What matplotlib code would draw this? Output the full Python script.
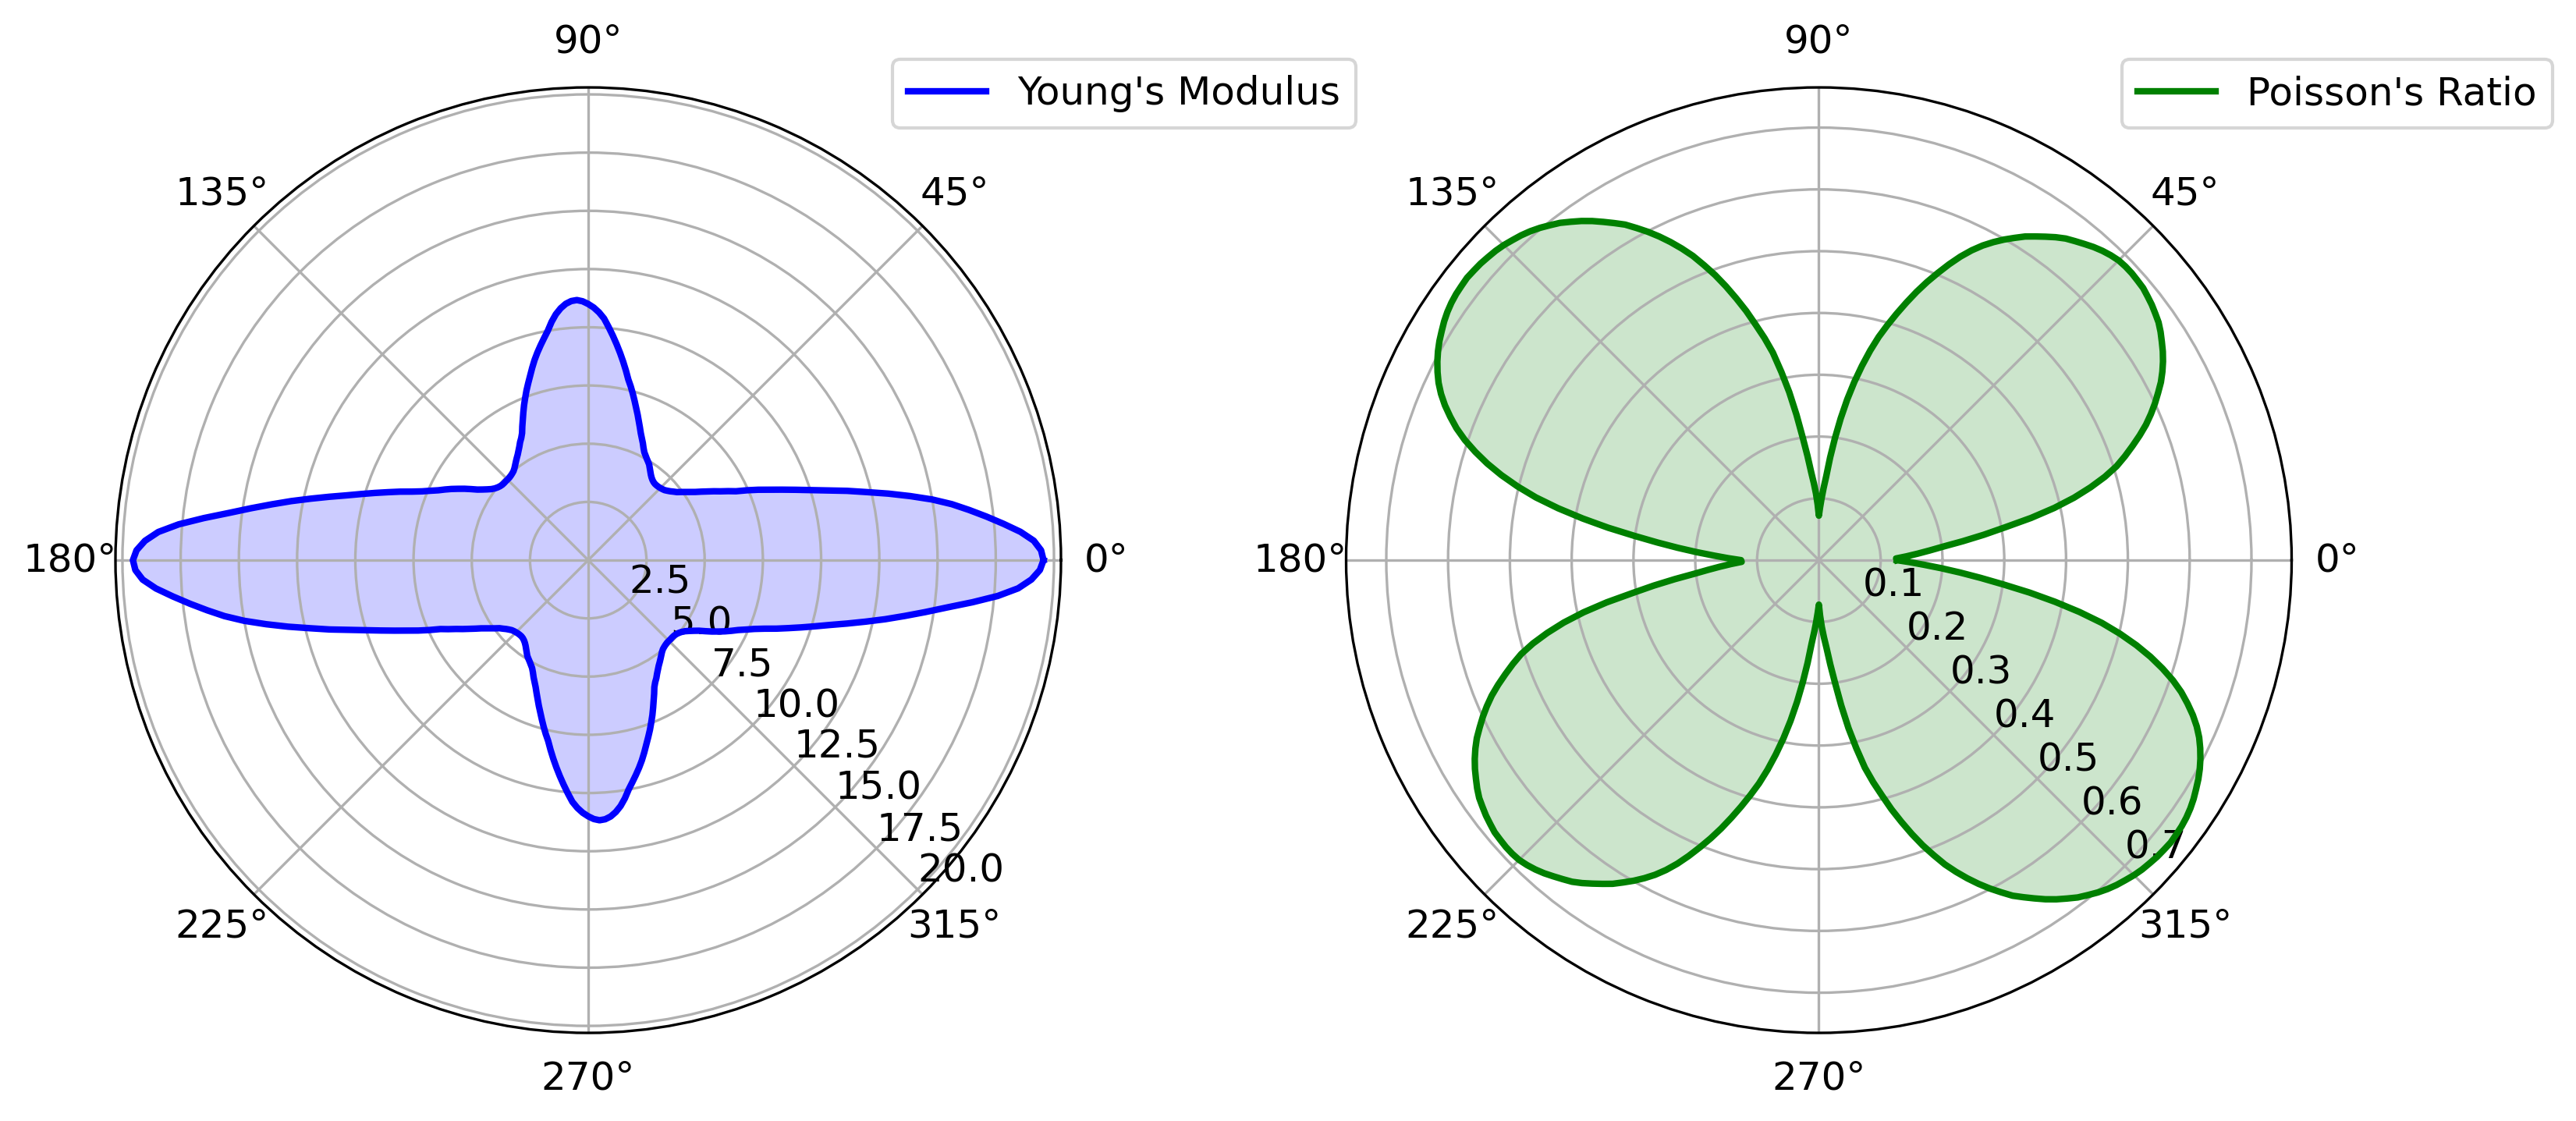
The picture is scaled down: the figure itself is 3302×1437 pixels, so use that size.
import numpy as np
import matplotlib
matplotlib.use("Agg")
import matplotlib.pyplot as plt

# loading direction in degrees, 1.25 degree steps over a full turn
angles_deg = np.arange(0, 360, 1.25)

# Young's modulus (the curve repeats after 180 deg)
youngs_modulus = [
    19.55, 19.45, 19.15, 18.6, 17.9, 17.2, 16.5, 15.8,
    15.0, 14.1, 13.2, 12.3, 11.5, 10.7, 10.0, 9.4,
    8.85, 8.35, 7.9, 7.45, 7.0, 6.7, 6.4, 6.15,
    5.9, 5.67, 5.45, 5.27, 5.1, 4.95, 4.8, 4.7,
    4.6, 4.52, 4.45, 4.41, 4.38, 4.36, 4.35, 4.35,
    4.37, 4.41, 4.47, 4.55, 4.65, 4.76, 4.87, 4.95,
    5.03, 5.12, 5.22, 5.37, 5.55, 5.72, 5.9, 6.12,
    6.35, 6.6, 6.85, 7.12, 7.4, 7.68, 7.95, 8.3,
    8.65, 9.0, 9.35, 9.7, 10.05, 10.4, 10.65, 10.85,
    11.0, 11.12, 11.18, 11.15, 11.05, 10.88, 10.65, 10.35,
    10.0, 9.72, 9.45, 9.18, 8.9, 8.6, 8.3, 8.02,
    7.75, 7.47, 7.2, 6.92, 6.65, 6.4, 6.15, 5.98,
    5.85, 5.7, 5.57, 5.45, 5.35, 5.25, 5.15, 5.06,
    4.99, 4.95, 4.92, 4.9, 4.9, 4.9, 4.9, 4.91,
    4.94, 4.99, 5.06, 5.16, 5.3, 5.46, 5.64, 5.88,
    6.13, 6.37, 6.62, 6.86, 7.1, 7.4, 7.72, 8.12,
    8.6, 9.08, 9.6, 10.15, 10.75, 11.45, 12.2, 13.0,
    13.8, 14.65, 15.55, 16.6, 17.65, 18.5, 19.05, 19.4,
    # 180 .. 358.75
    19.55, 19.45, 19.15, 18.6, 17.9, 17.2, 16.5, 15.8,
    15.0, 14.1, 13.2, 12.3, 11.5, 10.7, 10.0, 9.4,
    8.85, 8.35, 7.9, 7.45, 7.0, 6.7, 6.4, 6.15,
    5.9, 5.67, 5.45, 5.27, 5.1, 4.95, 4.8, 4.7,
    4.6, 4.52, 4.45, 4.41, 4.38, 4.36, 4.35, 4.35,
    4.37, 4.41, 4.47, 4.55, 4.65, 4.76, 4.87, 4.95,
    5.03, 5.12, 5.22, 5.37, 5.55, 5.72, 5.9, 6.12,
    6.35, 6.6, 6.85, 7.12, 7.4, 7.68, 7.95, 8.3,
    8.65, 9.0, 9.35, 9.7, 10.05, 10.4, 10.65, 10.85,
    11.0, 11.12, 11.18, 11.15, 11.05, 10.88, 10.65, 10.35,
    10.0, 9.72, 9.45, 9.18, 8.9, 8.6, 8.3, 8.02,
    7.75, 7.47, 7.2, 6.92, 6.65, 6.4, 6.15, 5.98,
    5.85, 5.7, 5.57, 5.45, 5.35, 5.25, 5.15, 5.06,
    4.99, 4.95, 4.92, 4.9, 4.9, 4.9, 4.9, 4.91,
    4.94, 4.99, 5.06, 5.16, 5.3, 5.46, 5.64, 5.88,
    6.13, 6.37, 6.62, 6.86, 7.1, 7.4, 7.72, 8.12,
    8.6, 9.08, 9.6, 10.15, 10.75, 11.45, 12.2, 13.0,
    13.8, 14.65, 15.55, 16.6, 17.65, 18.5, 19.05, 19.4,
]

# Poisson's ratio
poissons_ratio = [
    0.126, 0.125, 0.142, 0.160, 0.180, 0.203, 0.235, 0.270,
    0.306, 0.350, 0.390, 0.425, 0.455, 0.482, 0.505, 0.523,
    0.540, 0.557, 0.573, 0.587, 0.600, 0.612, 0.624, 0.634,
    0.643, 0.651, 0.658, 0.665, 0.671, 0.675, 0.679, 0.682,
    0.685, 0.686, 0.687, 0.687, 0.686, 0.683, 0.679, 0.674,
    0.668, 0.662, 0.656, 0.648, 0.639, 0.630, 0.621, 0.610,
    0.599, 0.587, 0.574, 0.559, 0.542, 0.523, 0.503, 0.483,
    0.462, 0.440, 0.418, 0.396, 0.374, 0.349, 0.322, 0.294,
    0.264, 0.232, 0.199, 0.167, 0.136, 0.117, 0.100, 0.085,
    0.072, 0.090, 0.108, 0.125, 0.143, 0.170, 0.200, 0.238,
    0.276, 0.310, 0.344, 0.370, 0.394, 0.420, 0.444, 0.468,
    0.491, 0.512, 0.533, 0.551, 0.568, 0.584, 0.599, 0.613,
    0.627, 0.638, 0.649, 0.660, 0.670, 0.679, 0.688, 0.695,
    0.702, 0.708, 0.713, 0.717, 0.721, 0.724, 0.726, 0.728,
    0.729, 0.730, 0.729, 0.728, 0.726, 0.723, 0.719, 0.714,
    0.709, 0.703, 0.696, 0.688, 0.679, 0.668, 0.655, 0.640,
    0.624, 0.605, 0.583, 0.559, 0.532, 0.502, 0.469, 0.430,
    0.388, 0.345, 0.301, 0.263, 0.229, 0.198, 0.170, 0.147,
    # 180 .. 358.75
    0.126, 0.125, 0.142, 0.160, 0.180, 0.203, 0.235, 0.270,
    0.306, 0.350, 0.390, 0.425, 0.455, 0.482, 0.505, 0.523,
    0.540, 0.557, 0.573, 0.587, 0.600, 0.612, 0.624, 0.634,
    0.643, 0.651, 0.658, 0.665, 0.671, 0.675, 0.679, 0.682,
    0.685, 0.686, 0.687, 0.687, 0.686, 0.683, 0.679, 0.674,
    0.668, 0.662, 0.656, 0.648, 0.639, 0.630, 0.621, 0.610,
    0.599, 0.587, 0.574, 0.559, 0.542, 0.523, 0.503, 0.483,
    0.462, 0.440, 0.418, 0.396, 0.374, 0.349, 0.322, 0.294,
    0.264, 0.232, 0.199, 0.167, 0.136, 0.117, 0.100, 0.085,
    0.072, 0.090, 0.108, 0.125, 0.143, 0.170, 0.200, 0.238,
    0.276, 0.310, 0.344, 0.370, 0.394, 0.420, 0.444, 0.468,
    0.491, 0.512, 0.533, 0.551, 0.568, 0.584, 0.599, 0.613,
    0.627, 0.638, 0.649, 0.660, 0.670, 0.679, 0.688, 0.695,
    0.702, 0.708, 0.713, 0.717, 0.721, 0.724, 0.726, 0.728,
    0.729, 0.730, 0.729, 0.728, 0.726, 0.723, 0.719, 0.714,
    0.709, 0.703, 0.696, 0.688, 0.679, 0.668, 0.655, 0.640,
    0.624, 0.605, 0.583, 0.559, 0.532, 0.502, 0.469, 0.430,
    0.388, 0.345, 0.301, 0.263, 0.229, 0.198, 0.170, 0.147,
]

plt.rcParams["font.size"] = 12

fig = plt.figure(figsize=(3302 / 300, 1437 / 300), dpi=300)
ax1 = fig.add_axes([0.04482, 0.0786, 0.36705, 0.84342], projection="polar")
ax2 = fig.add_axes([0.52256, 0.0786, 0.36705, 0.84342], projection="polar")

# close the curves
theta = np.deg2rad(np.append(angles_deg, 360.0))
E = np.append(youngs_modulus, youngs_modulus[0])
nu = np.append(poissons_ratio, poissons_ratio[0])

ax1.plot(theta, E, color="blue", lw=2, label="Young's Modulus")
ax1.fill(theta, E, color="blue", alpha=0.2, lw=0)
ax1.set_ylim(0, 20.3)
ax1.set_rlabel_position(-45)
ax1.legend(loc="upper right", bbox_to_anchor=(0.5264, 0.9471),
           bbox_transform=fig.transFigure, borderaxespad=0)

ax2.plot(theta, nu, color="green", lw=2, label="Poisson's Ratio")
ax2.fill(theta, nu, color="green", alpha=0.2, lw=0)
ax2.set_ylim(0, 0.765)
ax2.set_rlabel_position(-45)
ax2.legend(loc="upper right", bbox_to_anchor=(0.9909, 0.9471),
           bbox_transform=fig.transFigure, borderaxespad=0)

fig.savefig("out.png", dpi=300)
